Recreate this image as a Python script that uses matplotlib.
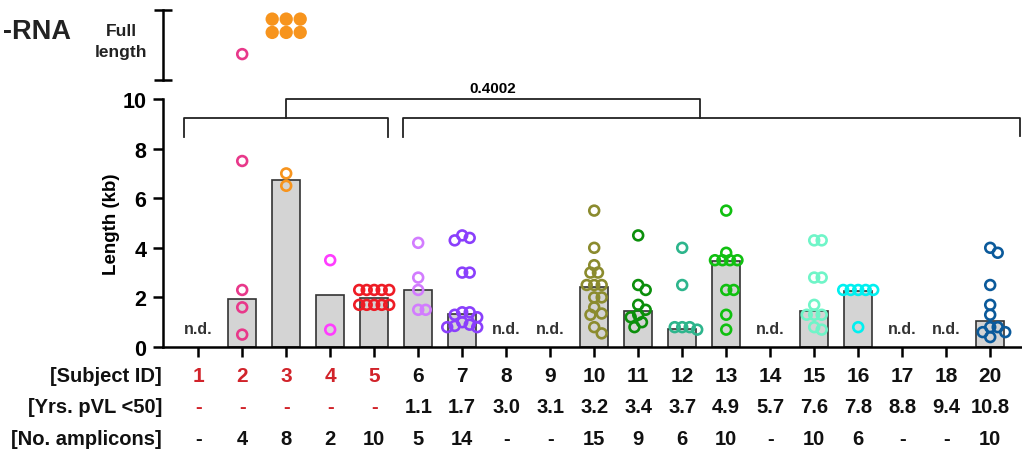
import numpy as np
import matplotlib.pyplot as plt
import matplotlib.transforms as mtransforms

plt.rcParams['font.family'] = ['Liberation Sans', 'DejaVu Sans']
plt.rcParams['font.weight'] = 'bold'

# table rows under the chart
subjects = ['1', '2', '3', '4', '5', '6', '7', '8', '9', '10', '11', '12', '13',
            '14', '15', '16', '17', '18', '20']
yrs_pvl = ['-', '-', '-', '-', '-', '1.1', '1.7', '3.0', '3.1', '3.2', '3.4', '3.7',
           '4.9', '5.7', '7.6', '7.8', '8.8', '9.4', '10.8']
n_amplicons = ['-', '4', '8', '2', '10', '5', '14', '-', '-', '15', '9', '6', '10',
               '-', '10', '6', '-', '-', '10']
red_subjects = ['1', '2', '3', '4', '5']
nd_subjects = ['1', '8', '9', '14', '17', '18']

# median amplicon length (kb) per subject (bars)
bar_median = {'2': 1.93, '3': 6.73, '4': 2.08, '5': 1.97, '6': 2.28, '7': 1.32,
              '10': 2.42, '11': 1.47, '12': 0.73, '13': 3.48, '15': 1.45,
              '16': 2.27, '20': 1.06}

# individual amplicon lengths (kb)
lengths = {
    '2': [7.5, 2.3, 1.6, 0.5],
    '3': [7.0, 6.5],
    '4': [3.5, 0.7],
    '5': [2.3, 2.3, 2.3, 2.3, 2.3, 1.7, 1.7, 1.7, 1.7, 1.7],
    '6': [4.2, 2.8, 2.3, 1.5, 1.5],
    '7': [4.5, 4.4, 4.3, 3.0, 3.0, 1.4, 1.4, 1.3, 1.2, 1.0, 0.9, 0.85, 0.8, 0.8],
    '10': [5.5, 4.0, 3.3, 3.0, 3.0, 2.5, 2.5, 2.5, 2.0, 2.0, 1.6, 1.35, 1.3, 0.8, 0.55],
    '11': [4.5, 2.5, 2.3, 1.7, 1.5, 1.3, 1.2, 1.0, 0.8],
    '12': [4.0, 2.5, 0.8, 0.8, 0.8, 0.7],
    '13': [5.5, 3.8, 3.5, 3.5, 3.5, 3.5, 2.3, 2.3, 1.3, 0.7],
    '15': [4.3, 4.3, 2.8, 2.8, 1.7, 1.3, 1.3, 1.3, 0.8, 0.7],
    '16': [2.3, 2.3, 2.3, 2.3, 2.3, 0.8],
    '20': [4.0, 3.8, 2.5, 1.7, 1.3, 0.8, 0.8, 0.6, 0.6, 0.4],
}
# full length amplicons (position within the top panel)
full_length = {'2': [0.37], '3': [0.87, 0.87, 0.87, 0.68, 0.68, 0.68]}
full_filled = {'2': False, '3': True}

colors = {'2': '#E8388A', '3': '#F7941D', '4': '#FF3DFF', '5': '#EE1C25',
          '6': '#D27CFF', '7': '#8A3FFC', '10': '#8B8B2E', '11': '#0B8F0B',
          '12': '#2DB58C', '13': '#10C010', '15': '#6FF5C8', '16': '#00F0F0',
          '20': '#0B5A9B'}
red = '#D1232A'

W, H = 1022, 456
PX_X = 44.0  # pixels per subject


def fx(px):
    return px / W


def fy(py):
    return 1 - py / H


def swarm(vals, yscale, step, dmin):
    placed, offs = [], []
    cands = [0]
    for k in range(1, 12):
        cands += [k * step, -k * step]
    for v in vals:
        y = v * yscale
        for c in cands:
            if all((c - px) ** 2 + (y - py) ** 2 >= dmin ** 2 for px, py in placed):
                break
        placed.append((c, y))
        offs.append(c / PX_X)
    return np.array(offs)


fig = plt.figure(figsize=(W / 100, H / 100), dpi=100)
ax = fig.add_axes([fx(163), fy(348), (1021 - 163) / W, 248 / H])
ax_top = fig.add_axes([fx(163), fy(81), (1021 - 163) / W, 70 / H])

xpos = np.arange(len(subjects))
xlim = (-0.8, 18.7)

# bars
bx = [xpos[subjects.index(s)] for s in bar_median]
ax.bar(bx, list(bar_median.values()), width=0.64, color='#D4D4D4',
       edgecolor='#333333', linewidth=1.2, zorder=2)

# points
for s, vals in lengths.items():
    x0 = xpos[subjects.index(s)]
    offs = swarm(vals, 24.8, 3.75, 7.5)
    ax.scatter(x0 + offs, vals, s=50, facecolors='none', edgecolors=colors[s],
               linewidths=1.9, zorder=3, clip_on=False)

for s in nd_subjects:
    ax.text(xpos[subjects.index(s)], 0.73, 'n.d.', ha='center', va='center',
            fontsize=11.5, color='#333333')

ax.set_xlim(*xlim)
ax.set_ylim(0, 10)
for sp in ['top', 'right']:
    ax.spines[sp].set_visible(False)
for sp in ['left', 'bottom']:
    ax.spines[sp].set_linewidth(1.8)
ax.set_xticks(xpos)
ax.set_xticklabels([])
ax.set_yticks([0, 2, 4, 6, 8, 10])
ax.set_yticks([10], minor=True)
ax.tick_params(axis='both', which='major', direction='out', length=7, width=1.8,
               labelsize=15.5, pad=5)
ax.tick_params(axis='y', which='minor', direction='in', length=7, width=1.8)
ax.set_ylabel('Length (kb)', fontsize=13.5, fontweight='bold')
ax.yaxis.set_label_coords(-0.05, 0.5)

# significance brackets
bk = dict(color='#222222', lw=1.3, clip_on=False)
ax.plot([-0.32, -0.32, 4.32, 4.32], [8.47, 9.25, 9.25, 8.47], **bk)
ax.plot([4.66, 4.66, 18.68, 18.68], [8.47, 9.25, 9.25, 8.5], **bk)
ax.plot([2.0, 2.0, 11.4, 11.4], [9.25, 10.0, 10.0, 9.25], **bk)
ax.text(6.7, 10.45, '0.4002', ha='center', va='center', fontsize=11)

# full length panel
for s, vals in full_length.items():
    x0 = xpos[subjects.index(s)]
    if full_filled[s]:
        offs = swarm(vals, 70, 14, 12)
        ax_top.scatter(x0 + offs, vals, s=92, color=colors[s], edgecolors='none')
    else:
        offs = swarm(vals, 70, 5, 5)
        ax_top.scatter(x0 + offs, vals, s=50, facecolors='none',
                       edgecolors=colors[s], linewidths=1.9)
ax_top.set_xlim(*xlim)
ax_top.set_ylim(0, 1)
for sp in ['top', 'right', 'bottom']:
    ax_top.spines[sp].set_visible(False)
ax_top.spines['left'].set_linewidth(1.8)
ax_top.set_xticks([])
ax_top.set_yticks([0, 1])
ax_top.tick_params(axis='y', direction='inout', length=13, width=1.8, labelleft=False)

fig.text(fx(121), fy(42), 'Full\nlength', ha='center', va='center',
         fontsize=12.5, linespacing=1.5, color='#222222')
fig.text(fx(71), fy(32), '-RNA', ha='right', va='center', fontsize=19.5,
         color='#222222')

# table under the axis
trans = mtransforms.blended_transform_factory(ax.transData, fig.transFigure)
rows = [('[Subject ID]', subjects, 377, 15),
        ('[Yrs. pVL <50]', yrs_pvl, 408, 14.5),
        ('[No. amplicons]', n_amplicons, 440, 14.5)]
for label, vals, py, fs in rows:
    fig.text(fx(162), fy(py), label, ha='right', va='center', fontsize=14.5,
             color='#111111')
    for i, v in enumerate(vals):
        c = '#111111'
        if subjects[i] in red_subjects and label != '[No. amplicons]':
            c = red
        ax.text(xpos[i], fy(py), v, transform=trans, ha='center', va='center',
                fontsize=fs, color=c)

fig.savefig('out.png', dpi=100)
